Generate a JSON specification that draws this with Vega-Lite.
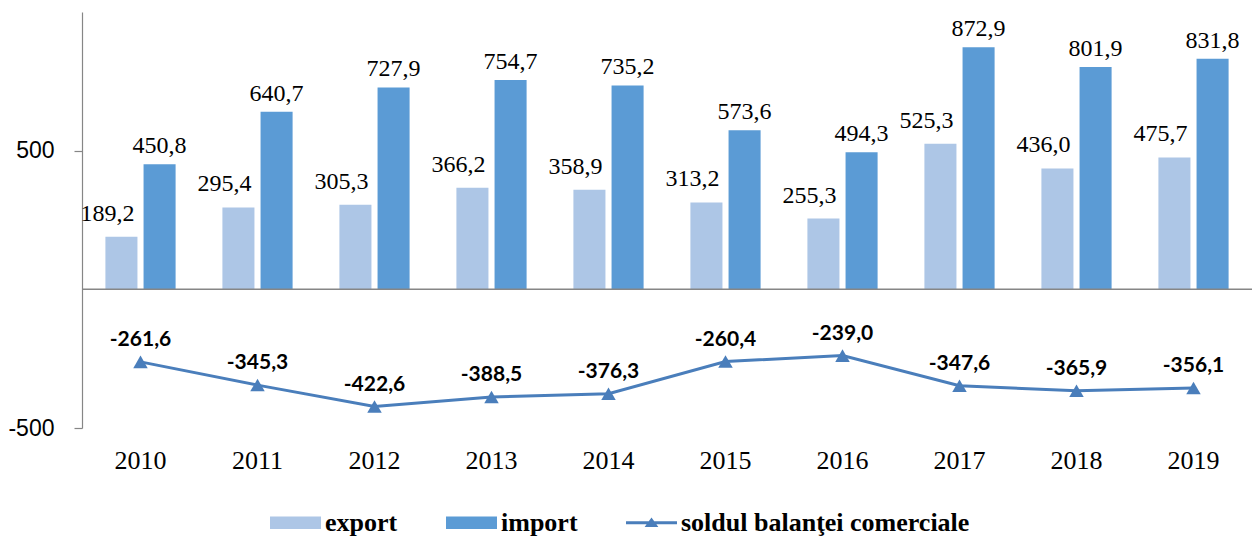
{
  "$schema": "https://vega.github.io/schema/vega-lite/v6.json",
  "width": 1170,
  "height": 416,
  "autosize": {"type": "none"},
  "padding": {"left": 82, "top": 12, "right": 0, "bottom": 110},
  "background": "white",
  "config": {
    "view": {"stroke": null},
    "locale": {"number": {"decimal": ",", "thousands": ".", "grouping": [3], "currency": ["", ""], "minus": "-"}},
    "axisX": {"domain": false, "ticks": false, "labelFont": "Liberation Serif", "labelFontSize": 26, "labelColor": "#000000", "labelPadding": 19, "labelAngle": 0, "grid": false},
    "axisY": {"domain": true, "domainColor": "#868686", "domainWidth": 1.2, "ticks": true, "tickColor": "#868686", "tickSize": 8, "tickWidth": 1.2, "labelFont": "Liberation Sans", "labelFontSize": 23, "labelColor": "#000000", "labelPadding": 20, "grid": false}
  },
  "datasets": {
    "trade": [
      {"year": "2010", "type": "export", "value": 189.2},
      {"year": "2010", "type": "import", "value": 450.8},
      {"year": "2011", "type": "export", "value": 295.4},
      {"year": "2011", "type": "import", "value": 640.7},
      {"year": "2012", "type": "export", "value": 305.3},
      {"year": "2012", "type": "import", "value": 727.9},
      {"year": "2013", "type": "export", "value": 366.2},
      {"year": "2013", "type": "import", "value": 754.7},
      {"year": "2014", "type": "export", "value": 358.9},
      {"year": "2014", "type": "import", "value": 735.2},
      {"year": "2015", "type": "export", "value": 313.2},
      {"year": "2015", "type": "import", "value": 573.6},
      {"year": "2016", "type": "export", "value": 255.3},
      {"year": "2016", "type": "import", "value": 494.3},
      {"year": "2017", "type": "export", "value": 525.3},
      {"year": "2017", "type": "import", "value": 872.9},
      {"year": "2018", "type": "export", "value": 436.0},
      {"year": "2018", "type": "import", "value": 801.9},
      {"year": "2019", "type": "export", "value": 475.7},
      {"year": "2019", "type": "import", "value": 831.8}
    ],
    "sold": [
      {"year": "2010", "value": -261.6},
      {"year": "2011", "value": -345.3},
      {"year": "2012", "value": -422.6},
      {"year": "2013", "value": -388.5},
      {"year": "2014", "value": -376.3},
      {"year": "2015", "value": -260.4},
      {"year": "2016", "value": -239.0},
      {"year": "2017", "value": -347.6},
      {"year": "2018", "value": -365.9},
      {"year": "2019", "value": -356.1}
    ]
  },
  "layer": [
    {
      "data": {"name": "trade"},
      "mark": {"type": "bar"},
      "encoding": {
        "x": {"field": "year", "type": "nominal", "title": null, "scale": {"paddingInner": 0.4, "paddingOuter": 0.2}},
        "xOffset": {"field": "type", "type": "nominal", "scale": {"paddingInner": 0.16, "paddingOuter": 0}},
        "y": {"field": "value", "type": "quantitative", "title": null, "scale": {"domain": [-500, 1000], "nice": false, "zero": false}, "axis": {"values": [-500, 500], "title": null}},
        "color": {
          "field": "type", "type": "nominal",
          "scale": {"domain": ["export", "import", "soldul balanţei comerciale"], "range": ["#adc6e6", "#5b9bd5", "#4a7ebb"]},
          "legend": {
            "orient": "none", "legendX": 188, "legendY": 485, "direction": "horizontal", "title": null, "padding": 0,
            "labelFont": "Liberation Serif", "labelFontWeight": "bold", "labelFontSize": 26, "labelColor": "#000000", "labelLimit": 500,
            "symbolSize": 2600, "labelOffset": 4, "columnPadding": 48,
            "encode": {"symbols": {"update": {
              "shape": {"signal": "datum.value === 'soldul balanţei comerciale' ? 'M-1,-0.06H1V0.06H-1Z M-0.27,0.17L0,-0.21L0.27,0.17Z' : 'M-1,-0.25H1V0.25H-1Z'"},
              "fill": {"signal": "scale('color', datum.value)"},
              "stroke": {"value": "transparent"},
              "strokeWidth": {"value": 0},
              "opacity": {"value": 1},
              "size": {"value": 2600}
            }}}
          }
        }
      }
    },
    {
      "data": {"values": [{}]},
      "mark": {"type": "rule", "color": "#868686", "strokeWidth": 1.5},
      "encoding": {"y": {"datum": 0, "type": "quantitative"}}
    },
    {
      "data": {"name": "trade"},
      "transform": [{"filter": "datum.type === 'export'"}],
      "mark": {"type": "text", "font": "Liberation Serif", "fontSize": 24, "color": "#000000", "baseline": "alphabetic", "dx": -14, "dy": -16},
      "encoding": {
        "x": {"field": "year", "type": "nominal", "title": null},
        "xOffset": {"field": "type", "type": "nominal"},
        "y": {"field": "value", "type": "quantitative", "title": null},
        "text": {"field": "value", "type": "quantitative", "format": ".1f"}
      }
    },
    {
      "data": {"name": "trade"},
      "transform": [{"filter": "datum.type === 'import'"}],
      "mark": {"type": "text", "font": "Liberation Serif", "fontSize": 24, "color": "#000000", "baseline": "alphabetic", "dx": 0, "dy": -11},
      "encoding": {
        "x": {"field": "year", "type": "nominal", "title": null},
        "xOffset": {"field": "type", "type": "nominal"},
        "y": {"field": "value", "type": "quantitative", "title": null},
        "text": {"field": "value", "type": "quantitative", "format": ".1f"}
      }
    },
    {
      "data": {"name": "sold"},
      "mark": {"type": "line", "strokeWidth": 3},
      "encoding": {
        "x": {"field": "year", "type": "nominal", "title": null},
        "y": {"field": "value", "type": "quantitative", "title": null},
        "color": {"datum": "soldul balanţei comerciale", "type": "nominal"}
      }
    },
    {
      "data": {"name": "sold"},
      "mark": {"type": "point", "shape": "triangle-up", "filled": true, "size": 210, "color": "#4a7ebb", "opacity": 1},
      "encoding": {
        "x": {"field": "year", "type": "nominal", "title": null},
        "y": {"field": "value", "type": "quantitative", "title": null}
      }
    },
    {
      "data": {"name": "sold"},
      "mark": {"type": "text", "font": "Lato", "fontWeight": "bold", "fontSize": 21, "color": "#000000", "baseline": "alphabetic", "dy": -16},
      "encoding": {
        "x": {"field": "year", "type": "nominal", "title": null},
        "y": {"field": "value", "type": "quantitative", "title": null},
        "text": {"field": "value", "type": "quantitative", "format": ".1f"}
      }
    }
  ]
}
